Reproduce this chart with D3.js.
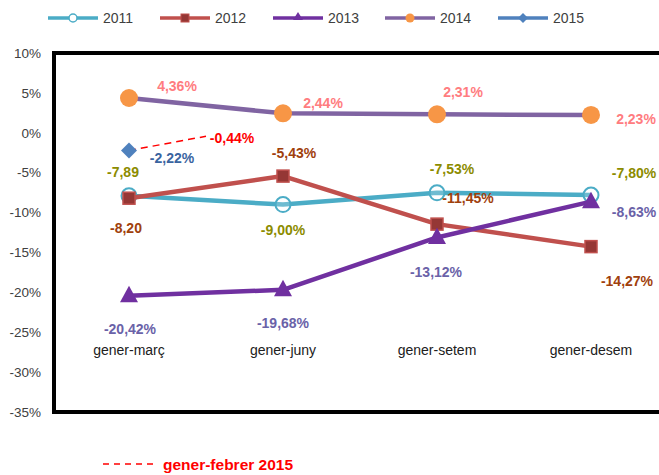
<!DOCTYPE html>
<html>
<head>
<meta charset="utf-8">
<script src="https://cdn.jsdelivr.net/npm/d3@7"></script>
<style>
  body { margin: 0; background: #fff; }
  svg { font-family: "Liberation Sans", Arial, sans-serif; }
</style>
</head>
<body>
<svg id="chart" width="659" height="475"></svg>
<script>
const categories = ['gener-març', 'gener-juny', 'gener-setem', 'gener-desem'];
const yTicks = [10, 5, 0, -5, -10, -15, -20, -25, -30, -35];

const v2011 = [-7.89, -9.00, -7.53, -7.80];
const v2012 = [-8.20, -5.43, -11.45, -14.27];
const v2013 = [-20.42, -19.68, -13.12, -8.63];
const v2014 = [4.36, 2.44, 2.31, 2.23];
const v2015 = [-2.22];
const febrer2015 = -0.44;

const lab2011 = ['-7,89', '-9,00%', '-7,53%', '-7,80%'];
const lab2012 = ['-8,20', '-5,43%', '-11,45%', '-14,27%'];
const lab2013 = ['-20,42%', '-19,68%', '-13,12%', '-8,63%'];
const lab2014 = ['4,36%', '2,44%', '2,31%', '2,23%'];
const lab2015 = ['-2,22%'];

const series = [
  {name: '2011', values: v2011, labels: lab2011, line: '#4bacc6', mark: 'circleOpen', labelColor: '#8c8c00',
   off: [[-6, -24], [0, 26], [15, -24], [43, -22]]},
  {name: '2012', values: v2012, labels: lab2012, line: '#c0504d', mark: 'square', labelColor: '#a0400c',
   off: [[-3, 30], [11, -23], [31, -26], [36, 34]]},
  {name: '2013', values: v2013, labels: lab2013, line: '#7030a0', mark: 'triangle', labelColor: '#6a62a8',
   off: [[1, 33], [0, 33], [-1, 35], [43, 10]]},
  {name: '2014', values: v2014, labels: lab2014, line: '#8064a2', mark: 'circleOrange', labelColor: '#ff7c80',
   off: [[48, -12], [40, -10], [26, -22], [45, 4]]},
  {name: '2015', values: v2015, labels: lab2015, line: '#4f81bd', mark: 'diamond', labelColor: '#3a64a0',
   off: [[43, 8]]}
];

const svg = d3.select('#chart');
const x = d3.scalePoint().domain(categories).range([52, 668]).padding(0.5);
const y = d3.scaleLinear().domain([-35, 10]).range([412, 53]);

// y axis labels
svg.append('g')
  .selectAll('text')
  .data(yTicks)
  .enter()
  .append('text')
  .attr('x', 41)
  .attr('y', d => y(d))
  .attr('dy', '0.35em')
  .attr('text-anchor', 'end')
  .attr('font-size', 13.5)
  .attr('fill', '#404040')
  .text(d => d + '%');

// category labels
svg.append('g')
  .selectAll('text')
  .data(categories)
  .enter()
  .append('text')
  .attr('x', d => x(d))
  .attr('y', 355)
  .attr('text-anchor', 'middle')
  .attr('font-size', 14)
  .attr('fill', '#202020')
  .text(d => d);

// frame
svg.append('path')
  .attr('d', 'M672,' + y(10) + 'H' + 54 + 'V' + y(-35) + 'H672')
  .attr('fill', 'none')
  .attr('stroke', '#000')
  .attr('stroke-width', 4);

const line = d3.line()
  .x((d, i) => x(categories[i]))
  .y(d => y(d));

// dashed gener-febrer 2015 line
const xFeb = x(categories[0]) + x.step() * 0.5;
svg.append('line')
  .attr('x1', x(categories[0])).attr('y1', y(v2015[0]))
  .attr('x2', xFeb).attr('y2', y(febrer2015))
  .attr('stroke', '#ff0000')
  .attr('stroke-width', 1.5)
  .attr('stroke-dasharray', '7,5');

svg.append('text')
  .attr('x', 232).attr('y', y(febrer2015) + 7)
  .attr('text-anchor', 'middle')
  .attr('font-size', 14).attr('font-weight', 'bold')
  .attr('fill', '#ff0000')
  .text('-0,44%');

function drawMarker(g, type, cx, cy, s) {
  if (type === 'circleOpen') {
    g.append('circle').attr('cx', cx).attr('cy', cy).attr('r', 7.5)
      .attr('fill', '#fff').attr('fill-opacity', 0.2).attr('stroke', s.line).attr('stroke-width', 2);
  } else if (type === 'square') {
    g.append('rect').attr('x', cx - 6).attr('y', cy - 6).attr('width', 12).attr('height', 12)
      .attr('fill', '#953735').attr('stroke', '#c0504d').attr('stroke-width', 1.5);
  } else if (type === 'triangle') {
    g.append('path').attr('d', `M${cx},${cy - 10}L${cx + 9},${cy + 6.5}L${cx - 9},${cy + 6.5}Z`)
      .attr('fill', '#7030a0');
  } else if (type === 'circleOrange') {
    g.append('circle').attr('cx', cx).attr('cy', cy).attr('r', 9)
      .attr('fill', '#f79646');
  } else if (type === 'diamond') {
    g.append('path').attr('d', `M${cx},${cy - 8}L${cx + 8},${cy}L${cx},${cy + 8}L${cx - 8},${cy}Z`)
      .attr('fill', '#4f81bd');
  }
}

// series lines and markers
series.forEach(s => {
  const g = svg.append('g');
  if (s.values.length > 1) {
    g.append('path')
      .datum(s.values)
      .attr('d', line)
      .attr('fill', 'none')
      .attr('stroke', s.line)
      .attr('stroke-width', 4.5)
      .attr('stroke-linejoin', 'round');
  }
  s.values.forEach((v, i) => drawMarker(g, s.mark, x(categories[i]), y(v), s));
});

// data labels
series.forEach(s => {
  svg.append('g')
    .selectAll('text')
    .data(s.values)
    .enter()
    .append('text')
    .attr('x', (d, i) => x(categories[i]) + s.off[i][0])
    .attr('y', (d, i) => y(d) + s.off[i][1])
    .attr('dy', '0.35em')
    .attr('text-anchor', 'middle')
    .attr('font-size', 14)
    .attr('font-weight', 'bold')
    .attr('fill', s.labelColor)
    .text((d, i) => s.labels[i]);
});

// top legend
const legendX = [48, 160, 273, 385, 498];
const lg = svg.append('g');
series.forEach((s, i) => {
  const lx = legendX[i];
  lg.append('line').attr('x1', lx).attr('x2', lx + 50).attr('y1', 18).attr('y2', 18)
    .attr('stroke', s.line).attr('stroke-width', 3.5);
  const mg = lg.append('g');
  const cx = lx + 25;
  if (s.mark === 'circleOpen') {
    mg.append('circle').attr('cx', cx).attr('cy', 18).attr('r', 4)
      .attr('fill', '#fff').attr('stroke', s.line).attr('stroke-width', 1.5);
  } else if (s.mark === 'square') {
    mg.append('rect').attr('x', cx - 4).attr('y', 14).attr('width', 8).attr('height', 8)
      .attr('fill', '#953735').attr('stroke', '#c0504d');
  } else if (s.mark === 'triangle') {
    mg.append('path').attr('d', `M${cx},12L${cx + 5},20L${cx - 5},20Z`).attr('fill', '#7030a0');
  } else if (s.mark === 'circleOrange') {
    mg.append('circle').attr('cx', cx).attr('cy', 18).attr('r', 4.5).attr('fill', '#f79646');
  } else if (s.mark === 'diamond') {
    mg.append('path').attr('d', `M${cx},13L${cx + 5},18L${cx},23L${cx - 5},18Z`).attr('fill', '#4f81bd');
  }
  lg.append('text').attr('x', lx + 55).attr('y', 18).attr('dy', '0.35em')
    .attr('font-size', 14).attr('fill', '#404040').text(s.name);
});

// bottom legend
svg.append('line').attr('x1', 103).attr('x2', 155).attr('y1', 464).attr('y2', 464)
  .attr('stroke', '#ff0000').attr('stroke-width', 1.5).attr('stroke-dasharray', '6,5');
svg.append('text').attr('x', 163).attr('y', 465).attr('dy', '0.35em')
  .attr('font-size', 15.5).attr('font-weight', 'bold').attr('fill', '#ff0000')
  .text('gener-febrer 2015');
</script>
</body>
</html>
